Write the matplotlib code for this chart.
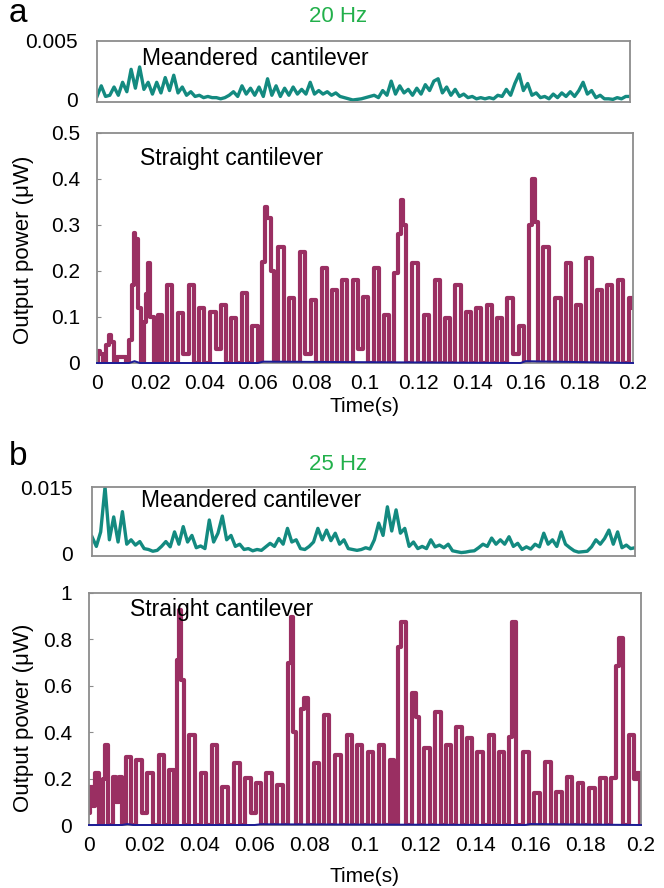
import numpy as np
import matplotlib
matplotlib.use("Agg")
import matplotlib.pyplot as plt

plt.rcParams['font.family'] = ['Liberation Sans', 'DejaVu Sans']

# ---- data ----
# (a) 20 Hz, meandered cantilever, units of 1e-3 uW, sampled evenly over 0..0.2 s
p_mea_a = [0.3, 1.2, 0.3, 0.4, 1.1, 0.4, 1.5, 0.7, 2.6, 1.0,
           2.8, 0.9, 1.5, 0.5, 1.5, 0.6, 1.9, 0.8, 2.1, 0.6,
           1.1, 0.4, 0.7, 0.3, 0.4, 0.2, 0.3, 0.2, 0.2, 0.1,
           0.2, 0.4, 0.7, 0.3, 1.2, 0.5, 1.0, 0.4, 1.1, 0.3,
           1.8, 0.4, 1.2, 0.3, 1.0, 0.4, 1.1, 0.5, 0.9, 0.5,
           1.5, 0.5, 0.8, 0.5, 0.7, 0.4, 0.6, 0.3, 0.2, 0.1,
           0.0, 0.05, 0.1, 0.2, 0.3, 0.4, 0.2, 0.8, 0.4, 1.6,
           0.5, 1.2, 0.6, 0.9, 0.4, 1.0, 0.5, 1.3, 0.8, 1.6,
           1.8, 0.6, 1.1, 0.4, 0.9, 0.3, 0.5, 0.2, 0.3, 0.1,
           0.2, 0.1, 0.2, 0.1, 0.4, 0.3, 0.9, 0.4, 1.4, 2.2,
           0.8, 1.4, 0.4, 0.6, 0.2, 0.3, 0.1, 0.5, 0.2, 0.6,
           0.3, 0.7, 0.3, 0.8, 1.5, 0.5, 0.8, 0.2, 0.4, 0.1,
           0.1, 0.05, 0.2, 0.1, 0.3, 0.3]

# (a) 20 Hz, straight cantilever (uW)
t_str_a = [0.0, 0.0008, 0.0016, 0.0028, 0.0040, 0.0048, 0.0056, 0.0068, 0.0078, 0.0092,
           0.0105, 0.0115, 0.0125, 0.0135, 0.0141, 0.0146, 0.0158, 0.0172, 0.0180, 0.0186,
           0.0193, 0.0205, 0.0218, 0.0235, 0.0252, 0.0272, 0.0291, 0.031, 0.0331, 0.0353,
           0.0372, 0.039, 0.0412, 0.0434, 0.0452, 0.047, 0.0489, 0.0508, 0.053, 0.0552,
           0.057, 0.059, 0.0608, 0.0625, 0.063, 0.0642, 0.0655, 0.0665, 0.0689, 0.0708,
           0.0726, 0.0746, 0.0767, 0.0787, 0.0807, 0.0828, 0.085, 0.0869, 0.0888, 0.0906,
           0.0925, 0.0944, 0.0963, 0.0983, 0.1003, 0.1023, 0.1043, 0.1062, 0.108, 0.1099,
           0.1118, 0.1128, 0.1137, 0.1147, 0.1162, 0.1186, 0.1208, 0.123, 0.125, 0.127,
           0.1288, 0.1307, 0.1327, 0.1348, 0.1366, 0.1385, 0.1404, 0.1423, 0.1445, 0.1466,
           0.1485, 0.1503, 0.1522, 0.154, 0.1562, 0.1584, 0.1605, 0.1618, 0.1627, 0.1638,
           0.1652, 0.1677, 0.1698, 0.172, 0.1739, 0.1758, 0.1776, 0.1795, 0.1815, 0.1836,
           0.1856, 0.1876, 0.1895, 0.1913, 0.1933, 0.1953, 0.1973, 0.1994, 0.2]
p_str_a = [0.0, 0.025, 0.02, 0.0, 0.04, 0.061, 0.045, 0.0, 0.014, 0.012,
           0.014, 0.0, 0.05, 0.17, 0.283, 0.27, 0.12, 0.0, 0.09, 0.15,
           0.217, 0.1, 0.0, 0.104, 0.0, 0.17, 0.0, 0.108, 0.02, 0.17,
           0.0, 0.12, 0.0, 0.11, 0.03, 0.127, 0.0, 0.097, 0.0, 0.152,
           0.0, 0.08, 0.0, 0.22, 0.34, 0.315, 0.2, 0.0, 0.253, 0.0,
           0.141, 0.0, 0.242, 0.02, 0.137, 0.0, 0.206, 0.0, 0.159, 0.0,
           0.18, 0.0, 0.18, 0.03, 0.144, 0.0, 0.206, 0.0, 0.104, 0.0,
           0.195, 0.28, 0.354, 0.3, 0.0, 0.217, 0.0, 0.104, 0.0, 0.18,
           0.0, 0.097, 0.0, 0.17, 0.0, 0.11, 0.0, 0.12, 0.0, 0.127,
           0.0, 0.097, 0.0, 0.141, 0.02, 0.08, 0.0, 0.3, 0.401, 0.307,
           0.0, 0.253, 0.0, 0.141, 0.0, 0.217, 0.0, 0.127, 0.0, 0.228,
           0.0, 0.159, 0.0, 0.17, 0.0, 0.18, 0.0, 0.141, 0.12]

# (b) 25 Hz, meandered cantilever, units of 1e-3 uW, sampled evenly over 0..0.2 s
p_mea_b = [3.7, 1.5, 4.8, 15.0, 3.0, 8.2, 2.5, 9.4, 2.0, 3.0,
           1.8, 2.6, 1.0, 0.8, 0.4, 0.6, 1.5, 2.6, 1.4, 4.8,
           2.0, 6.0, 2.5, 4.0, 1.2, 1.6, 1.0, 7.5, 2.5, 4.5,
           8.4, 3.0, 4.0, 1.5, 2.0, 0.8, 1.0, 0.5, 0.8, 0.6,
           1.4, 2.2, 1.5, 3.3, 2.0, 5.6, 2.5, 3.0, 1.0, 0.8,
           1.5, 2.5, 5.6, 3.0, 5.2, 2.8, 4.5, 2.0, 3.0, 1.0,
           0.8, 0.6, 0.8, 1.2, 0.9, 3.0, 6.8, 4.0, 10.5, 5.0,
           9.8, 4.5, 5.6, 1.5, 2.5, 1.0, 1.5, 1.0, 3.0, 1.4,
           1.8, 1.2, 2.0, 0.5, 0.3, 0.1, 0.2, 0.4, 0.5, 1.2,
           2.0, 1.5, 3.4, 2.0, 3.0, 2.0, 3.7, 1.5, 2.2, 0.8,
           1.4, 0.9, 2.0, 1.4, 4.5, 2.0, 3.0, 1.5, 4.8, 2.0,
           1.2, 0.5, 0.2, 0.3, 0.4, 1.4, 3.0, 2.0, 3.3, 5.2,
           2.0, 4.8, 1.2, 1.8, 1.0, 1.2]

# (b) 25 Hz, straight cantilever (uW)
t_str_b = [0.0, 0.001, 0.0019, 0.0028, 0.0045, 0.0055, 0.0062, 0.0078, 0.0094, 0.0103,
           0.0112, 0.0127, 0.0142, 0.0162, 0.0182, 0.0201, 0.0221, 0.0242, 0.0263, 0.0281,
           0.0299, 0.0314, 0.0322, 0.0329, 0.0336, 0.0352, 0.0375, 0.0395, 0.0414, 0.0435,
           0.0456, 0.0474, 0.0492, 0.0513, 0.0535, 0.0556, 0.0577, 0.0595, 0.0613, 0.0633,
           0.0653, 0.0672, 0.0692, 0.0712, 0.0728, 0.0734, 0.0742, 0.0758, 0.0775, 0.0782,
           0.0803, 0.0824, 0.0842, 0.086, 0.0882, 0.0903, 0.0924, 0.0945, 0.0963, 0.0981,
           0.1, 0.102, 0.104, 0.1059, 0.1079, 0.1099, 0.1112, 0.1126, 0.1138, 0.1159,
           0.118, 0.1188, 0.1205, 0.1225, 0.1245, 0.1265, 0.1283, 0.1301, 0.1321, 0.1341,
           0.1359, 0.1377, 0.1397, 0.1416, 0.1437, 0.1458, 0.1476, 0.1494, 0.1512, 0.1528,
           0.1536, 0.156, 0.1584, 0.1603, 0.1623, 0.1643, 0.1663, 0.1683, 0.1703, 0.1722,
           0.1741, 0.176, 0.178, 0.1801, 0.1823, 0.1842, 0.1862, 0.1881, 0.19, 0.1916,
           0.1922, 0.1945, 0.1969, 0.198, 0.1992, 0.2]
p_str_b = [0.05, 0.165, 0.08, 0.223, 0.0, 0.2, 0.345, 0.0, 0.209, 0.1,
           0.209, 0.0, 0.295, 0.0, 0.28, 0.05, 0.223, 0.0, 0.302, 0.0,
           0.237, 0.0, 0.711, 0.927, 0.625, 0.0, 0.388, 0.0, 0.223, 0.0,
           0.345, 0.0, 0.165, 0.0, 0.266, 0.0, 0.201, 0.05, 0.18, 0.0,
           0.223, 0.0, 0.172, 0.0, 0.697, 0.898, 0.4, 0.0, 0.5, 0.546,
           0.0, 0.266, 0.0, 0.474, 0.0, 0.302, 0.0, 0.388, 0.0, 0.345,
           0.0, 0.316, 0.0, 0.345, 0.0, 0.28, 0.0, 0.768, 0.876, 0.0,
           0.568, 0.467, 0.0, 0.33, 0.0, 0.489, 0.0, 0.345, 0.0, 0.424,
           0.0, 0.374, 0.0, 0.316, 0.0, 0.388, 0.0, 0.316, 0.0, 0.381,
           0.876, 0.0, 0.316, 0.0, 0.137, 0.0, 0.273, 0.0, 0.144, 0.0,
           0.209, 0.0, 0.18, 0.0, 0.158, 0.0, 0.201, 0.0, 0.201, 0.687,
           0.805, 0.0, 0.388, 0.2, 0.223, 0.0]

# dark blue trace sitting on the zero line
t_base = [0.0, 0.012, 0.014, 0.016, 0.03, 0.06, 0.062, 0.158, 0.16, 0.2]
p_base = [0.0, 0.0, 0.004, 0.0, 0.0, 0.0, 0.003, 0.0, 0.004, 0.0]

x_ticks = [0, 0.02, 0.04, 0.06, 0.08, 0.1, 0.12, 0.14, 0.16, 0.18, 0.2]

assert len(t_str_a) == len(p_str_a)
assert len(t_str_b) == len(p_str_b)

c_str = '#9A2F62'
c_mea = '#138A80'
c_base = '#1C1C96'
c_frame = '#8C8C8C'
c_hz = '#22B04B'
fs_tick = 15
fs_text = 16.5

W, H = 664, 888
fig = plt.figure(figsize=(W / 100, H / 100), dpi=100)


def box(x0, y0, x1, y1):
    # axes from pixel corners (top-left origin)
    return [x0 / W, 1 - y1 / H, (x1 - x0) / W, (y1 - y0) / H]


def frame(ax):
    for s in ax.spines.values():
        s.set_color(c_frame)
        s.set_linewidth(1.3)
    ax.tick_params(axis='both', colors=c_frame, labelcolor='black',
                   labelsize=fs_tick, direction='in', length=3)


def top_panel(rect, vals, ymax, ylo, label, lx, ly):
    ax = fig.add_axes(rect)
    t = np.linspace(0, 0.2, len(vals))
    ax.plot(t, np.array(vals) * 1e-3, color=c_mea, lw=2.4)
    ax.set_xlim(0, 0.2)
    ax.set_ylim(ylo, ymax)
    ax.set_xticks([])
    ax.set_yticks([0, ymax])
    ax.set_yticklabels(['0', '%g' % ymax])
    frame(ax)
    ax.tick_params(axis='y', length=0, pad=14)
    ax.text(lx, ly, label, transform=ax.transAxes, fontsize=fs_text, va='center')
    return ax


def main_panel(rect, t, p, ymax, ystep, lx, ly):
    ax = fig.add_axes(rect)
    ax.plot(t, p, color=c_str, lw=3.0, drawstyle='steps-mid')
    ax.plot(t_base, p_base, color=c_base, lw=1.4, clip_on=False, zorder=3)
    ax.set_xlim(0, 0.2)
    ax.set_ylim(0, ymax)
    ax.set_xticks(x_ticks)
    ax.set_xticklabels(['%g' % v for v in x_ticks])
    yt = np.arange(0, ymax + 1e-9, ystep)
    ax.set_yticks(yt)
    ax.set_yticklabels(['%g' % round(v, 2) for v in yt])
    frame(ax)
    ax.tick_params(axis='x', length=0, pad=8)
    ax.tick_params(axis='y', pad=12)
    ax.text(lx, ly, 'Straight cantilever', transform=ax.transAxes, fontsize=fs_text, va='center')
    return ax


# panel a
top_panel(box(97, 41, 630, 102), p_mea_a, 0.005, -0.00017,
          'Meandered  cantilever', 0.085, 0.72)
main_panel(box(97, 133, 633, 363), t_str_a, p_str_a, 0.5, 0.1, 0.08, 0.89)
fig.text(18 / W, 1 - 14 / H, 'a', fontsize=24, ha='center', va='center')
fig.text(338 / W, 1 - 17 / H, '20 Hz', fontsize=16, color=c_hz, ha='center', va='center')
fig.text(24 / W, 1 - 250 / H, 'Output power (\u03bcW)', fontsize=16, rotation=90,
         ha='center', va='center')
fig.text(365 / W, 1 - 407 / H, 'Time(s)', fontsize=fs_tick, ha='center', va='center')

# panel b
top_panel(box(92, 487, 635, 556), p_mea_b, 0.015, -0.00068,
          'Meandered cantilever', 0.09, 0.8)
main_panel(box(89, 593, 641, 825), t_str_b, p_str_b, 1.0, 0.2, 0.075, 0.93)
fig.text(18 / W, 1 - 456 / H, 'b', fontsize=24, ha='center', va='center')
fig.text(338 / W, 1 - 464 / H, '25 Hz', fontsize=16, color=c_hz, ha='center', va='center')
fig.text(24 / W, 1 - 718 / H, 'Output power (\u03bcW)', fontsize=16, rotation=90,
         ha='center', va='center')
fig.text(365 / W, 1 - 876 / H, 'Time(s)', fontsize=fs_tick, ha='center', va='center')

fig.savefig('out.png', dpi=100)
